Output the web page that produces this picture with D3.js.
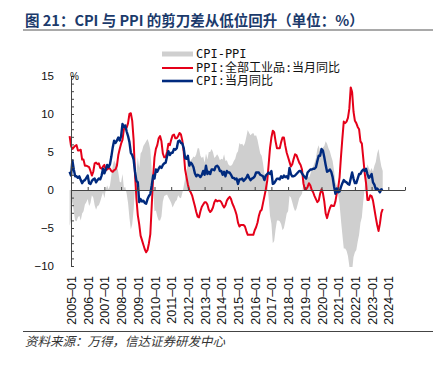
<!DOCTYPE html>
<html><head><meta charset="utf-8">
<script src="https://cdn.jsdelivr.net/npm/d3@7"></script>
<style>
body{margin:0;background:#fff;}
svg{display:block;}
</style></head>
<body>
<svg id="c" width="440" height="366"></svg>
<script>
// ---- data (monthly, starting 2004-12) ----
const startMonth = "2004-12";
const cpi = [
 2.4,
 1.9,3.9,2.7,1.8,1.8,1.6,1.8,1.3,0.9,1.2,1.3,1.6,
 1.9,0.9,0.8,1.2,1.4,1.5,1.0,1.3,1.5,1.4,1.9,2.8,
 2.2,2.7,3.3,3.0,3.4,4.4,5.6,6.5,6.2,6.5,6.9,6.5,
 7.1,8.7,8.3,8.5,7.7,7.1,6.3,4.9,4.6,4.0,2.4,1.2,
 1.0,-1.6,-1.2,-1.5,-1.4,-1.7,-1.8,-1.2,-0.8,-0.5,0.6,1.9,
 1.5,2.7,2.4,2.8,3.1,2.9,3.3,3.5,3.6,4.4,5.1,4.6,
 4.9,4.9,5.4,5.3,5.5,6.4,6.5,6.2,6.1,5.5,4.2,4.1,
 4.5,3.2,3.6,3.4,3.0,2.2,1.8,2.0,1.9,1.7,2.0,2.5,
 2.0,3.2,2.1,2.4,2.1,2.7,2.7,2.6,3.1,3.2,3.0,2.5,
 2.5,2.0,2.4,1.8,2.5,2.3,2.3,2.0,1.6,1.6,1.4,1.5,
 0.8,1.4,1.4,1.5,1.2,1.4,1.6,2.0,1.6,1.3,1.5,1.6,
 1.8,2.3,2.3,2.3,2.0,1.9,1.8,1.3,1.9,2.1,2.3,2.1,
 2.5,0.8,0.9,1.2,1.5,1.5,1.4,1.8,1.6,1.9,1.7,1.8,
 1.5,2.9,2.1,1.8,1.8,1.9,2.1,2.3,2.5,2.5,2.2,1.9,
 1.7,1.5,2.3,2.5,2.7,2.7,2.8,2.8,3.0,3.8,4.5,4.5,
 5.4,5.2,4.3,3.3,2.4,2.5,2.7,2.4,1.7,0.5,-0.5,0.2,
 -0.3,-0.2,0.4,0.9,1.3,1.1,1.0,0.8,0.7,1.5,2.3,1.5,
 0.9,0.9,1.5,2.1,2.1,2.5,2.7,2.5,2.8,2.1,1.6,1.8,
 2.1,1.0,0.7,0.1,0.2,0.0,-0.3,0.1,0.0
];
const ppi = [
 7.1,
 5.8,5.4,5.6,5.8,5.9,5.2,5.2,5.3,4.0,4.0,3.2,3.2,
 3.1,3.0,2.5,1.9,2.4,3.5,3.6,3.4,3.5,2.9,2.8,3.1,
 3.3,2.6,2.7,2.9,2.8,2.5,2.4,2.6,2.7,3.2,4.6,5.4,
 6.1,6.6,8.0,8.1,8.2,8.8,10.0,10.1,9.1,6.6,2.0,-1.1,
 -3.3,-4.5,-6.0,-6.6,-7.2,-7.8,-8.2,-7.9,-7.0,-5.8,-2.1,1.7,
 4.3,5.4,5.9,6.8,7.1,6.4,4.8,4.3,4.3,5.0,6.1,5.9,
 6.6,7.2,7.3,6.8,6.8,7.1,7.5,7.3,6.5,5.0,2.7,1.7,
 0.7,0.0,-0.3,-0.7,-1.4,-2.1,-2.9,-3.5,-3.6,-2.8,-2.2,-1.9,
 -1.6,-1.6,-1.9,-2.6,-2.9,-2.7,-2.3,-1.6,-1.3,-1.5,-1.4,-1.4,
 -1.6,-2.0,-2.3,-2.0,-1.4,-1.1,-0.9,-1.2,-1.8,-2.2,-2.7,-3.3,
 -4.3,-4.8,-4.6,-4.6,-4.6,-4.8,-5.4,-5.9,-5.9,-5.9,-5.9,-5.9,
 -5.3,-4.9,-4.3,-3.4,-2.8,-2.6,-1.7,-0.8,0.1,1.2,3.3,5.5,
 6.9,7.8,7.6,6.4,5.5,5.5,5.5,6.3,6.9,6.9,5.8,4.9,
 4.3,3.7,3.1,3.4,4.1,4.7,4.6,4.1,3.6,3.3,2.7,0.9,
 0.1,0.1,0.4,0.9,0.6,0.0,-0.3,-0.8,-1.2,-1.6,-1.4,-0.5,
 0.1,-0.4,-1.5,-3.1,-3.7,-3.0,-2.4,-2.0,-2.1,-2.1,-1.5,-0.4,
 0.3,1.7,4.4,6.8,9.0,8.8,9.0,9.5,10.7,13.5,12.9,10.3,
 9.1,8.8,8.3,8.0,6.4,6.1,4.2,2.3,0.9,-1.3,-1.3,-0.7,
 -0.8,-1.4,-2.5,-3.6,-4.6,-5.4,-4.4,-3.0,-2.5
];
const xTickYears = d3.range(2005, 2026);
const xTickLabels = d3.range(2005, 2025).map(y => y + "–01");
const yTicks = d3.range(-10, 16, 1);
const yLabelTicks = [-10, -5, 0, 5, 10, 15];
const seriesNames = ["CPI-PPI", "PPI:全部工业品:当月同比", "CPI:当月同比"];
const titleText = "图 21：CPI 与 PPI 的剪刀差从低位回升（单位：%）";
const sourceText = "资料来源：万得，信达证券研发中心";

// ---- build ----
const [sy, sm] = startMonth.split("-").map(Number);
const data = cpi.map((c, i) => {
  const m = (sy - 2005) * 12 + (sm - 1) + i; // months since 2005-01
  return {m, cpi: c, ppi: ppi[i], diff: c - ppi[i]};
});

const svg = d3.select("#c");
const x = d3.scaleLinear().domain([0, 240]).range([71, 405]);
const y = d3.scaleLinear().domain([-10, 15]).range([266, 76]);

const RED = "#e50019", BLUE = "#002a7e", GRAY = "#cfcfcf";
const numFont = "'Liberation Sans', Arial, sans-serif";

// title
svg.append("text").attr("x", 25).attr("y", 26)
  .attr("font-family", "'Noto Sans CJK SC', sans-serif")
  .attr("font-weight", "bold").attr("font-size", 14.5)
  .attr("fill", "#1b3a6b").text(titleText);
svg.append("line").attr("x1", 23).attr("x2", 433).attr("y1", 30).attr("y2", 30)
  .attr("stroke", "#555").attr("stroke-width", 1.2);

// clip
svg.append("clipPath").attr("id", "pc").append("rect")
  .attr("x", 60).attr("y", y(15)).attr("width", 360).attr("height", y(-10) - y(15) + 1);

const plot = svg.append("g").attr("clip-path", "url(#pc)");

plot.append("path").datum(data)
  .attr("fill", GRAY)
  .attr("d", d3.area().x(d => x(d.m)).y0(y(0)).y1(d => y(d.diff)));

// zero axis with upward ticks
const gx = svg.append("g").attr("transform", `translate(0,${y(0)})`)
  .call(d3.axisBottom(x).tickValues(xTickYears.map(yr => (yr - 2005) * 12))
    .tickSizeInner(-3).tickSizeOuter(0).tickFormat(""));
gx.select(".domain").attr("stroke", "#444").attr("stroke-width", 1.2);
gx.selectAll(".tick line").attr("stroke", "#444");

// x labels (rotated)
const gxl = svg.append("g").attr("transform", `translate(0,270)`)
  .call(d3.axisBottom(x).tickValues(xTickLabels.map((_, i) => i * 12))
    .tickSize(0).tickFormat((d, i) => xTickLabels[i]));
gxl.select(".domain").remove();
gxl.selectAll("text")
  .attr("transform", "rotate(-90)")
  .attr("x", -6).attr("y", 0).attr("dy", "0.36em")
  .attr("text-anchor", "end")
  .attr("font-family", numFont).attr("font-size", 12.5).attr("fill", "#111");

// y axis
const gy = svg.append("g").attr("transform", `translate(71,0)`)
  .call(d3.axisLeft(y).tickValues(yTicks).tickSizeInner(-3).tickSizeOuter(0)
    .tickPadding(17).tickFormat(d => yLabelTicks.includes(d) ? (d < 0 ? "−" + Math.abs(d) : d) : ""));
gy.select(".domain").attr("stroke", "#444");
gy.selectAll(".tick line").attr("stroke", "#444");
gy.selectAll("text").attr("font-family", numFont).attr("font-size", 11.5).attr("fill", "#111");

svg.append("text").attr("x", 70).attr("y", 80).attr("font-family", numFont)
  .attr("font-size", 10).attr("fill", "#111").text("%");

// lines
plot.append("path").datum(data).attr("fill", "none").attr("stroke", RED)
  .attr("stroke-width", 2).attr("stroke-linejoin", "round")
  .attr("d", d3.line().x(d => x(d.m)).y(d => y(d.ppi)));
plot.append("path").datum(data).attr("fill", "none").attr("stroke", BLUE)
  .attr("stroke-width", 2.4).attr("stroke-linejoin", "round")
  .attr("d", d3.line().x(d => x(d.m)).y(d => y(d.cpi)));

// legend
const lg = svg.append("g");
const legY = [54, 68, 81];
lg.append("rect").attr("x", 162).attr("y", legY[0] - 2.5).attr("width", 31).attr("height", 5).attr("fill", GRAY);
lg.append("line").attr("x1", 162).attr("x2", 193).attr("y1", legY[1]).attr("y2", legY[1]).attr("stroke", RED).attr("stroke-width", 2);
lg.append("line").attr("x1", 162).attr("x2", 193).attr("y1", legY[2]).attr("y2", legY[2]).attr("stroke", BLUE).attr("stroke-width", 2.6);
seriesNames.forEach((n, i) => {
  lg.append("text").attr("x", 196).attr("y", legY[i]).attr("dy", "0.36em")
    .attr("font-family", "'DejaVu Sans Mono', 'Noto Sans CJK SC', monospace")
    .attr("font-size", 12).attr("fill", "#111").text(n);
});

// source
svg.append("line").attr("x1", 23).attr("x2", 433).attr("y1", 331.5).attr("y2", 331.5)
  .attr("stroke", "#444").attr("stroke-width", 1);
svg.append("text").attr("x", 25).attr("y", 346)
  .attr("font-family", "'Noto Sans CJK SC', sans-serif").attr("font-style", "italic")
  .attr("font-size", 12.5).attr("fill", "#333").text(sourceText);
</script>
</body></html>
